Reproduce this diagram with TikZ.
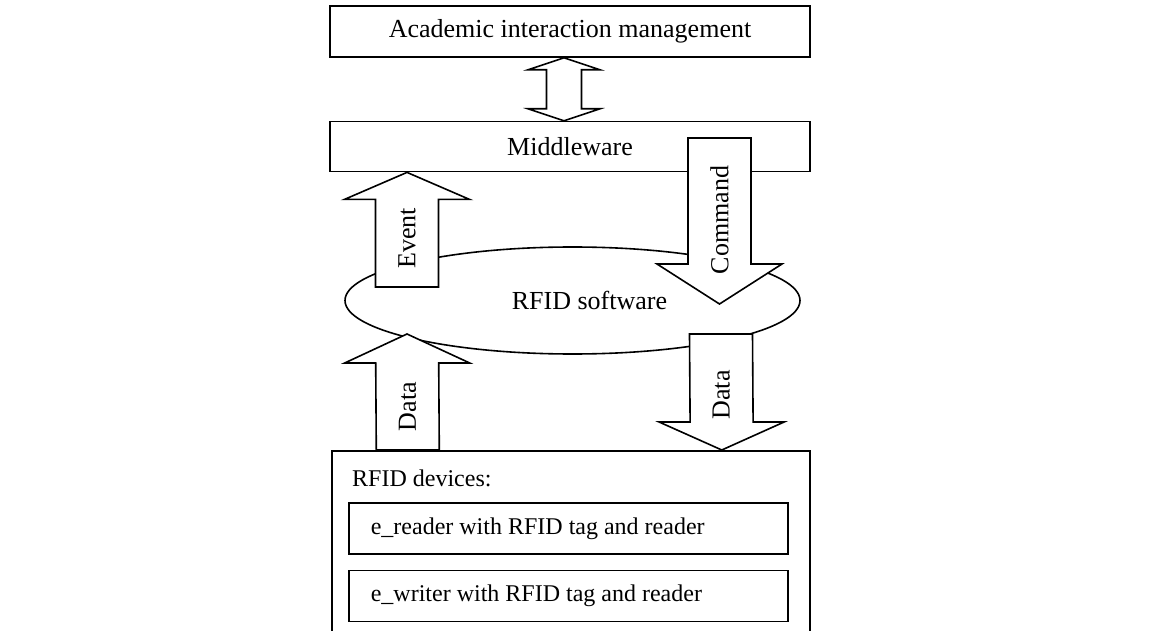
\documentclass[tikz,border=0pt]{standalone}
\usepackage{fontspec}
\setmainfont{Liberation Serif}
\usetikzlibrary{shapes.geometric, calc, positioning}
\tikzset{
    box/.style={
        rectangle,
        draw=black,
        line width=1.6pt,
        fill=white,
        inner sep=0pt,
        font=\fontsize{26}{30}\selectfont
    },
    itembox/.style={
        box,
        text width=395pt,
        inner xsep=22pt,
        minimum height=51pt,
        align=flush left,
        font=\fontsize{24}{28}\selectfont
    },
    swshape/.style={
        ellipse,
        draw=black,
        line width=1.6pt,
        inner sep=0pt
    },
    plaintext/.style={
        inner sep=0pt,
        font=\fontsize{26}{30}\selectfont
    },
    blockline/.style={
        draw=black,
        line width=1.6pt,
        fill=white,
        line join=miter
    },
    arrowlabel/.style={
        plaintext,
        rotate=90
    }
}
% tail, tip, head length, label, label shift
\newcommand{\blockarrow}[5]{%
  \coordinate (hb) at ($(#2)!#3pt!(#1)$);
  \draw[blockline] ($(#1)+(-31.5,0)$) -- ($(hb)+(-31.5,0)$) -- ($(hb)+(-62.5,0)$) -- (#2)
    -- ($(hb)+(62.5,0)$) -- ($(hb)+(31.5,0)$) -- ($(#1)+(31.5,0)$) -- cycle;
  \node[arrowlabel] at ($(#1)!0.5!(hb)+(0,#5)$) {#4};
}

\begin{document}
\begin{tikzpicture}[x=1pt, y=1pt]
\useasboundingbox (0,0) rectangle (1171,-631);
\clip (0,0) rectangle (1171,-631);

% Layers
\node[box, minimum width=480pt, minimum height=51pt] (aim) at (570,-31.5) {Academic interaction management};
\node[box, minimum width=480pt, minimum height=50pt, below=63pt of aim] (mw) {Middleware};

\node[swshape, minimum width=455pt, minimum height=107pt] (rfidsw) at (572.5,-300.5) {};
\node[plaintext, xshift=17pt] (swlabel) at (rfidsw.center) {RFID software};

% Devices
\node[box, anchor=north west, minimum width=478pt, minimum height=200pt] (dev) at (331,-450) {};
\node[plaintext, anchor=west, font=\fontsize{24}{28}\selectfont] (devtitle) at (352,-478) {RFID devices:};
\node[itembox, anchor=north west] (ereader) at (348,-502) {e\_reader with RFID tag and reader};
\node[itembox, below=15pt of ereader] (ewriter) {e\_writer with RFID tag and reader};

% Arrows
\coordinate (dtop) at ($(aim.south)+(-6,0)$);
\coordinate (dbot) at ($(mw.north)+(-6,0)$);
\draw[blockline] (dtop) -- ($(dtop)+(36,-12)$) -- ($(dtop)+(17.5,-12)$) -- ($(dbot)+(17.5,12)$)
  -- ($(dbot)+(36,12)$) -- (dbot) -- ($(dbot)+(-36,12)$) -- ($(dbot)+(-17.5,12)$)
  -- ($(dtop)+(-17.5,-12)$) -- ($(dtop)+(-36,-12)$) -- cycle;

\coordinate (evtail) at (407,-287);
\coordinate (evtip) at ($(mw.south)+(-163,0)$);
\blockarrow{evtail}{evtip}{27}{Event}{5}

\coordinate (cmdtail) at (719.5,-138);
\coordinate (cmdtip) at (719.5,-304);
\blockarrow{cmdtail}{cmdtip}{40}{Command}{-19}

\coordinate (intail) at ($(dev.north)+(-163,0)$);
\coordinate (intip) at (407,-334);
\blockarrow{intail}{intip}{29}{Data}{0}

\coordinate (outtail) at (721,-334);
\coordinate (outtip) at ($(dev.north)+(151,0)$);
\blockarrow{outtail}{outtip}{28}{Data}{-17}

\end{tikzpicture}
\end{document}
